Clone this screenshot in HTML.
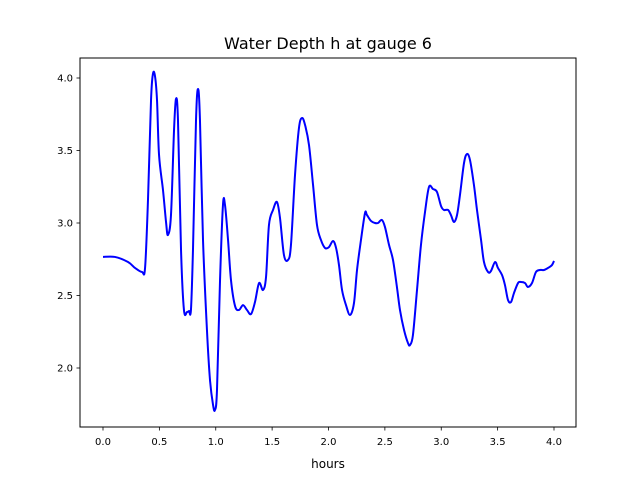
<!DOCTYPE html>
<html><head><meta charset="utf-8"><style>
body{margin:0;background:#fff;}
svg{display:block;font-family:"DejaVu Sans","Liberation Sans",sans-serif;}
</style></head><body>
<svg width="640" height="480">
<rect x="0" y="0" width="640" height="480" fill="#fff"/>
<text x="328" y="49" text-anchor="middle" font-size="16">Water Depth h at gauge 6</text>
<g id="plot"></g>
<rect x="80" y="58" width="496" height="369" fill="none" stroke="#000" stroke-width="1"/>
<text x="328" y="468" text-anchor="middle" font-size="12">hours</text>
</svg>
<script>
const tVals=[0,0.106,0.222,0.284,0.346,0.373,0.399,0.426,0.443,0.461,0.479,0.497,0.532,0.559,0.576,0.603,0.630,0.647,0.665,0.692,0.718,0.745,0.763,0.780,0.798,0.825,0.843,0.860,0.887,0.922,0.949,0.976,0.993,1.011,1.038,1.064,1.082,1.109,1.135,1.171,1.206,1.242,1.277,1.313,1.348,1.384,1.419,1.446,1.472,1.508,1.543,1.570,1.605,1.641,1.667,1.703,1.738,1.765,1.792,1.827,1.863,1.898,1.933,1.969,2.004,2.040,2.067,2.093,2.120,2.155,2.191,2.226,2.253,2.288,2.324,2.341,2.377,2.412,2.439,2.474,2.501,2.537,2.572,2.608,2.634,2.670,2.705,2.723,2.749,2.785,2.820,2.856,2.891,2.927,2.962,2.998,3.024,3.060,3.086,3.113,3.140,3.166,3.202,3.228,3.255,3.290,3.317,3.353,3.379,3.415,3.441,3.477,3.503,3.539,3.565,3.592,3.619,3.645,3.681,3.707,3.743,3.769,3.805,3.840,3.876,3.911,3.947,3.982,4.000];
const hVals=[2.766,2.766,2.731,2.690,2.662,2.690,3.159,3.848,4.028,4.014,3.848,3.469,3.228,3.007,2.917,3.055,3.641,3.855,3.710,2.814,2.400,2.386,2.393,2.400,2.814,3.710,3.924,3.710,2.883,2.262,1.917,1.745,1.710,1.848,2.607,3.124,3.124,2.883,2.607,2.428,2.400,2.434,2.400,2.372,2.455,2.586,2.538,2.628,2.986,3.090,3.145,3.034,2.779,2.745,2.848,3.331,3.655,3.724,3.676,3.538,3.262,2.986,2.883,2.828,2.834,2.876,2.828,2.710,2.538,2.434,2.366,2.448,2.676,2.883,3.069,3.055,3.014,3.000,3.000,3.021,2.972,2.848,2.745,2.552,2.400,2.262,2.172,2.159,2.228,2.538,2.848,3.076,3.248,3.234,3.214,3.117,3.090,3.090,3.055,3.007,3.055,3.193,3.414,3.476,3.434,3.262,3.090,2.883,2.731,2.662,2.669,2.731,2.690,2.641,2.572,2.469,2.455,2.517,2.586,2.593,2.586,2.559,2.586,2.662,2.676,2.676,2.690,2.710,2.738];
const xTicks=[0,0.5,1,1.5,2,2.5,3,3.5,4];
const xTickLabels=["0.0","0.5","1.0","1.5","2.0","2.5","3.0","3.5","4.0"];
const yTicks=[2,2.5,3,3.5,4];
const yTickLabels=["2.0","2.5","3.0","3.5","4.0"];
const NS="http://www.w3.org/2000/svg";
const xS=t=>103+t*112.75;
const yS=h=>78+(4-h)*145;
const g=document.getElementById('plot');
function mk(tag,attrs){const e=document.createElementNS(NS,tag);for(const k in attrs)e.setAttribute(k,attrs[k]);return e;}
xTicks.forEach((v,i)=>{
  const l=mk('line',{x1:xS(v),x2:xS(v),y1:427,y2:430.5,stroke:'#000','stroke-width':0.8});
  
  
  g.appendChild(l);
  const t=mk('text',{x:xS(v),y:445,'text-anchor':'middle','font-size':10});
  
  
  t.textContent=xTickLabels[i];g.appendChild(t);
});
yTicks.forEach((v,i)=>{
  const l=mk('line',{x1:76.5,x2:80,y1:yS(v),y2:yS(v),stroke:'#000','stroke-width':0.8});
  
  
  g.appendChild(l);
  const t=mk('text',{x:73,y:yS(v)+3.5,'text-anchor':'end','font-size':10});
  
  
  t.textContent=yTickLabels[i];g.appendChild(t);
});
const pts=tVals.map((t,i)=>[xS(t),yS(hVals[i])]);
let d='M'+pts[0][0]+','+pts[0][1];
for(let i=0;i<pts.length-1;i++){
  const p0=pts[Math.max(0,i-1)],p1=pts[i],p2=pts[i+1],p3=pts[Math.min(pts.length-1,i+2)];
  const c1=[p1[0]+(p2[0]-p0[0])/6,p1[1]+(p2[1]-p0[1])/6];
  const c2=[p2[0]-(p3[0]-p1[0])/6,p2[1]-(p3[1]-p1[1])/6];
  d+=` C${c1[0]},${c1[1]} ${c2[0]},${c2[1]} ${p2[0]},${p2[1]}`;
}
const path=mk('path',{d:d,fill:'none',stroke:'#0000ff','stroke-width':2,'stroke-linejoin':'round'});


g.appendChild(path);
</script>
</body></html>
